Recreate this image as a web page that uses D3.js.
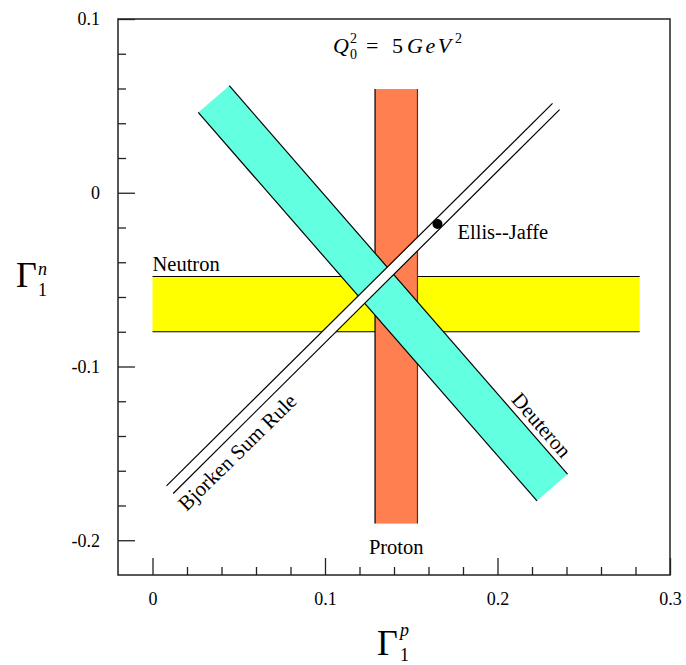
<!DOCTYPE html>
<html>
<head>
<meta charset="utf-8">
<script src="https://cdn.jsdelivr.net/npm/d3@7"></script>
<style>
  body { margin: 0; background: #fff; }
  svg text { font-family: "Liberation Serif", "DejaVu Serif", "Times New Roman", serif; }
  .axis path { display: none; }
  .axis line { stroke: #222; stroke-width: 1.3; }
  .axis text { font-size: 18px; fill: #000; }
</style>
</head>
<body>
<svg width="686" height="665"></svg>
<script>
// DATA

  var xMajor = [0, 0.1, 0.2, 0.3],
      xLabels = ["0", "0.1", "0.2", "0.3"],
      yMajor = [-0.2, -0.1, 0, 0.1],
      yLabels = ["-0.2", "-0.1", "0", "0.1"],
      xMinor = [0.02, 0.04, 0.06, 0.08, 0.12, 0.14, 0.16, 0.18, 0.22, 0.24, 0.26, 0.28],
      yMinor = [-0.18, -0.16, -0.14, -0.12, -0.08, -0.06, -0.04, -0.02, 0.02, 0.04, 0.06, 0.08];

  // bands: Gamma1^p on x, Gamma1^n on y
  var neutronX = [0, 0.2824],
      neutronY = [-0.0800, -0.0482],
      protonX = [0.1290, 0.1536],
      protonY = [-0.1904, 0.0597],
      deuteronCorners = [[0.0265, 0.0462], [0.0445, 0.0616], [0.2406, -0.1620], [0.2229, -0.1773]],
      bjorkenUpper = [[0.0081, -0.1687], [0.2319, 0.0514]],
      bjorkenLower = [[0.0120, -0.1731], [0.2360, 0.0478]],
      ellisJaffe = [0.1652, -0.0180];

// SETUP

  var svg = d3.select("svg"),
      margin = { top: 19, right: 16, bottom: 90, left: 118 },
      width = 670 - margin.left,
      height = 575 - margin.top;

  var x = d3.scaleLinear().domain([-0.02, 0.3]).range([0, width]),
      y = d3.scaleLinear().domain([-0.22, 0.1]).range([height, 0]);

  var g = svg.append("g")
    .attr("transform", "translate(" + margin.left + "," + margin.top + ")");

  var line = d3.line()
    .x(function (d) { return x(d[0]); })
    .y(function (d) { return y(d[1]); });

// BANDS

  // neutron (yellow)
  g.append("rect")
    .attr("x", x(neutronX[0]))
    .attr("y", y(neutronY[1]))
    .attr("width", x(neutronX[1]) - x(neutronX[0]))
    .attr("height", y(neutronY[0]) - y(neutronY[1]))
    .attr("fill", "#ffff00");
  neutronY.forEach(function (v) {
    g.append("path")
      .attr("d", line([[neutronX[0], v], [neutronX[1], v]]))
      .attr("stroke", "#000").attr("stroke-width", 1.2);
  });

  // proton (orange)
  g.append("rect")
    .attr("x", x(protonX[0]))
    .attr("y", y(protonY[1]))
    .attr("width", x(protonX[1]) - x(protonX[0]))
    .attr("height", y(protonY[0]) - y(protonY[1]))
    .attr("fill", "#ff7f50");
  protonX.forEach(function (v, i) {
    g.append("path")
      .attr("d", line([[v, protonY[0]], [v, protonY[1]]]))
      .attr("stroke", i ? "#5a3020" : "#000").attr("stroke-width", 1.2);
  });

  // deuteron (aquamarine)
  g.append("path")
    .attr("d", line(deuteronCorners) + "Z")
    .attr("fill", "#62ffe0");
  [[deuteronCorners[0], deuteronCorners[3]], [deuteronCorners[1], deuteronCorners[2]]].forEach(function (s) {
    g.append("path")
      .attr("d", line(s))
      .attr("stroke", "#000").attr("stroke-width", 1.2);
  });

  // Bjorken sum rule (white strip)
  g.append("path")
    .attr("d", line([bjorkenUpper[0], bjorkenUpper[1], bjorkenLower[1], bjorkenLower[0]]) + "Z")
    .attr("fill", "#fff");
  [bjorkenUpper, bjorkenLower].forEach(function (s) {
    g.append("path")
      .attr("d", line(s))
      .attr("stroke", "#000").attr("stroke-width", 1.2);
  });

  // Ellis-Jaffe point
  g.append("circle")
    .attr("cx", x(ellisJaffe[0]))
    .attr("cy", y(ellisJaffe[1]))
    .attr("r", 5)
    .attr("fill", "#000");

// AXES

  g.append("g")
    .attr("class", "axis")
    .call(d3.axisLeft(y).tickValues(yMajor).tickSize(-17).tickPadding(18)
      .tickFormat(function (d, i) { return yLabels[i]; }));

  g.append("g")
    .attr("class", "axis")
    .call(d3.axisLeft(y).tickValues(yMinor).tickSize(-8).tickFormat(""));

  g.append("g")
    .attr("class", "axis")
    .attr("transform", "translate(0," + height + ")")
    .call(d3.axisBottom(x).tickValues(xMajor).tickSize(-17).tickPadding(17)
      .tickFormat(function (d, i) { return xLabels[i]; }));

  g.append("g")
    .attr("class", "axis")
    .attr("transform", "translate(0," + height + ")")
    .call(d3.axisBottom(x).tickValues(xMinor).tickSize(-8).tickFormat(""));

  g.selectAll(".axis").attr("font-family", null);

  // frame
  g.append("rect")
    .attr("width", width)
    .attr("height", height)
    .attr("fill", "none")
    .attr("stroke", "#222")
    .attr("stroke-width", 1.5);

// LABELS

  g.append("text")
    .attr("x", x(neutronX[0]))
    .attr("y", y(neutronY[1]) - 5)
    .style("font-size", "20.5px")
    .text("Neutron");

  g.append("text")
    .attr("x", x((protonX[0] + protonX[1]) / 2))
    .attr("y", y(protonY[0]) + 30)
    .attr("text-anchor", "middle")
    .style("font-size", "20.5px")
    .text("Proton");

  g.append("text")
    .attr("x", x(ellisJaffe[0]) + 20)
    .attr("y", y(ellisJaffe[1]) + 15)
    .style("font-size", "20.5px")
    .text("Ellis--Jaffe");

  g.append("text")
    .attr("transform", "translate(" + x(0.2224) + "," + y(-0.1364) + ") rotate(49)")
    .attr("text-anchor", "middle")
    .style("font-size", "21px")
    .text("Deuteron");

  g.append("text")
    .attr("transform", "translate(" + x(0.0520) + "," + y(-0.1522) + ") rotate(-44.5)")
    .attr("text-anchor", "middle")
    .style("font-size", "21px")
    .text("Bjorken Sum Rule");

  // Q0^2 = 5 GeV^2
  var qParts = [
    { t: "Q", x: 333, y: 53, s: 22, i: true },
    { t: "0", x: 350, y: 59, s: 14 },
    { t: "2", x: 350, y: 43, s: 14 },
    { t: "=", x: 366, y: 53, s: 22 },
    { t: "5", x: 392, y: 53, s: 22 },
    { t: "GeV", x: 407, y: 53, s: 22, i: true, ls: 2.5 },
    { t: "2", x: 455, y: 43, s: 14 }
  ];
  svg.selectAll(".q").data(qParts).enter().append("text")
    .attr("class", "q")
    .attr("x", function (d) { return d.x; })
    .attr("y", function (d) { return d.y; })
    .style("font-size", function (d) { return d.s + "px"; })
    .style("font-style", function (d) { return d.i ? "italic" : "normal"; })
    .style("letter-spacing", function (d) { return (d.ls || 0) + "px"; })
    .text(function (d) { return d.t; });

  // axis titles
  svg.append("text").attr("x", 16).attr("y", 287).style("font-size", "36px").text("Γ");
  svg.append("text").attr("x", 38).attr("y", 296).style("font-size", "18px").text("1");
  svg.append("text").attr("x", 38).attr("y", 275).style("font-size", "18px").style("font-style", "italic").text("n");

  svg.append("text").attr("x", 377).attr("y", 655).style("font-size", "36px").text("Γ");
  svg.append("text").attr("x", 400).attr("y", 661).style("font-size", "18px").text("1");
  svg.append("text").attr("x", 400).attr("y", 636).style("font-size", "18px").style("font-style", "italic").text("p");
</script>
</body>
</html>
